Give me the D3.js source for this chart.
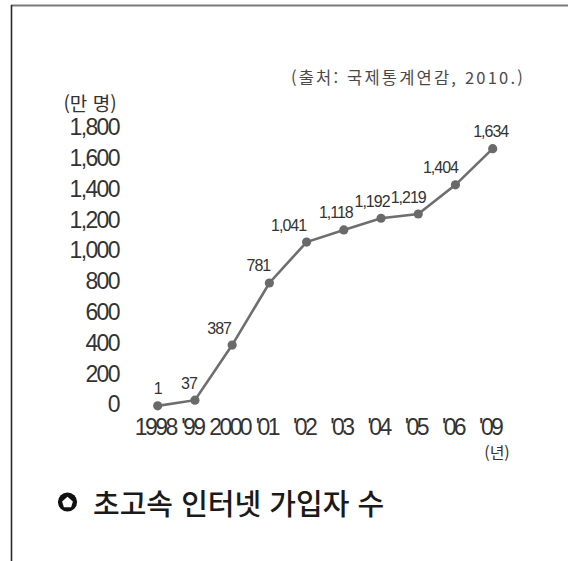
<!DOCTYPE html>
<html lang="ko">
<head>
<meta charset="utf-8">
<script src="https://cdn.jsdelivr.net/npm/d3@7/dist/d3.min.js"></script>
<style>
  html, body { margin: 0; padding: 0; background: #fff; }
  svg { display: block; }
  .num { font-family: "Liberation Sans", Arial, sans-serif; }
  .kr { font-family: "Noto Sans CJK KR", "Noto Sans", sans-serif; }
</style>
</head>
<body>
<svg id="chart" width="568" height="561"></svg>
<script>
// Broadband internet subscribers (unit: 10,000 people)
const years = ["1998", "'99", "2000", "'01", "'02", "'03", "'04", "'05", "'06", "'09"];
const subscribers = [1, 37, 387, 781, 1041, 1118, 1192, 1219, 1404, 1634];
const valueLabels = ["1", "37", "387", "781", "1,041", "1,118", "1,192", "1,219", "1,404", "1,634"];
const yTicks = [0, 200, 400, 600, 800, 1000, 1200, 1400, 1600, 1800];

// horizontal nudges for value labels so they sit up-left of each point
const labelDx = [0, -6, -13, -11, -18, -8, -9, -10, -15, -2];

const svg = d3.select("#chart");

// frame lines
svg.append("line").attr("x1", 11).attr("x2", 568).attr("y1", 5.5).attr("y2", 5.5)
  .attr("stroke", "#7a7a7a").attr("stroke-width", 2);
svg.append("line").attr("x1", 11.5).attr("x2", 11.5).attr("y1", 5).attr("y2", 561)
  .attr("stroke", "#2a2a2a").attr("stroke-width", 1.6);

const x = d3.scalePoint().domain(years).range([157.7, 492.7]);
const y = d3.scaleLinear().domain([0, 1800]).range([406, 122.5]);
// tick labels are spaced a little tighter than the plotted values
const yLabel = d3.scaleLinear().domain([0, 1800]).range([403.5, 126.5]);

// y-axis labels (no axis line)
const yAxis = d3.axisLeft(yLabel).tickValues(yTicks).tickSize(0).tickPadding(0)
  .tickFormat(d3.format(","));
const gy = svg.append("g").attr("transform", "translate(119,0)").call(yAxis);
gy.select(".domain").remove();
gy.selectAll("text")
  .attr("class", "num")
  .attr("font-size", 23)
  .attr("letter-spacing", -1.6)
  .attr("fill", "#333")
  .attr("dy", "0.36em");

// unit label
svg.append("text").attr("class", "kr")
  .attr("x", 90).attr("y", 102).attr("text-anchor", "middle")
  .attr("dominant-baseline", "central")
  .attr("font-size", 19).attr("fill", "#333")
  .text("(만 명)");

// source
svg.append("text").attr("class", "kr")
  .attr("x", 525).attr("y", 77).attr("text-anchor", "end")
  .attr("dominant-baseline", "central")
  .attr("font-size", 16.5).attr("letter-spacing", 2.2).attr("fill", "#4a4a4a")
  .text("(출처: 국제통계연감, 2010.)");

// x-axis labels
const xAxis = d3.axisBottom(x).tickSize(0).tickPadding(0);
const gx = svg.append("g").attr("transform", "translate(-3,427)").call(xAxis);
gx.select(".domain").remove();
gx.selectAll("text")
  .attr("class", "num")
  .attr("font-size", 23)
  .attr("letter-spacing", -2.6)
  .attr("fill", "#333")
  .attr("y", 0)
  .attr("dy", "0.36em");

// year unit
svg.append("text").attr("class", "kr")
  .attr("x", 497).attr("y", 452).attr("text-anchor", "middle")
  .attr("dominant-baseline", "central")
  .attr("font-size", 16).attr("fill", "#333")
  .text("(년)");

// line
const line = d3.line().x((d, i) => x(years[i])).y(d => y(d));
svg.append("path").datum(subscribers)
  .attr("d", line)
  .attr("fill", "none")
  .attr("stroke", "#6e6e6e")
  .attr("stroke-width", 2.6);

// points
svg.selectAll("circle.pt").data(subscribers).join("circle")
  .attr("class", "pt")
  .attr("cx", (d, i) => x(years[i]))
  .attr("cy", d => y(d))
  .attr("r", 4.6)
  .attr("fill", "#6a6a6a");

// value labels
svg.selectAll("text.val").data(subscribers).join("text")
  .attr("class", "val num")
  .attr("x", (d, i) => x(years[i]) + labelDx[i])
  .attr("y", d => y(d) - 17)
  .attr("text-anchor", "middle")
  .attr("dominant-baseline", "central")
  .attr("font-size", 16)
  .attr("letter-spacing", -1)
  .attr("fill", "#333")
  .text((d, i) => valueLabels[i]);

// caption icon
const icon = svg.append("g").attr("transform", "translate(67.5,502)");
icon.append("circle").attr("r", 9.6).attr("fill", "#111");
icon.append("path")
  .attr("d", "M0,-5.2 L5.4,-0.6 L3.6,5.2 L-3.6,5.2 L-5.4,-0.6 Z")
  .attr("fill", "#fff");

// caption
svg.append("text").attr("class", "kr")
  .attr("x", 93).attr("y", 502)
  .attr("dominant-baseline", "central")
  .attr("font-size", 29).attr("font-weight", 500)
  .attr("fill", "#1a1a1a")
  .text("초고속 인터넷 가입자 수");
</script>
</body>
</html>
